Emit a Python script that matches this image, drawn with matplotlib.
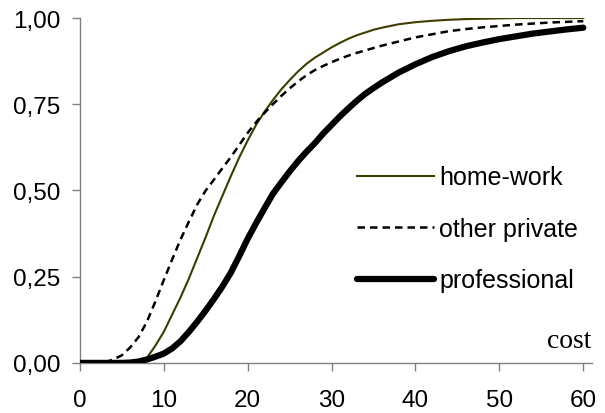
import matplotlib
matplotlib.use('Agg')
import matplotlib.pyplot as plt
import numpy as np

plt.rcParams['font.family'] = ['Liberation Sans', 'DejaVu Sans']

# cost grid and cumulative shares
cost = [0, 1, 2, 3, 4, 5, 6, 7, 8, 9, 10, 11, 12, 13, 14, 15, 16, 17, 18, 19, 20,
        21, 22, 23, 24, 25, 26, 27, 28, 29, 30, 31, 32, 33, 34, 35, 36,
        38, 40, 42, 44, 46, 48, 50, 52, 54, 56, 58, 60]

home_work = [0, 0, 0, 0, 0, 0, 0.001, 0.004, 0.015, 0.05, 0.09, 0.14, 0.19, 0.245, 0.305,
             0.365, 0.428, 0.485, 0.542, 0.596, 0.645, 0.69, 0.728, 0.762, 0.793, 0.82,
             0.845, 0.867, 0.885, 0.90, 0.915, 0.928, 0.94, 0.95, 0.958, 0.966, 0.972,
             0.982, 0.988, 0.992, 0.995, 0.997, 0.998, 0.999, 1.0, 1.0, 1.0, 1.0, 1.0]

other_private = [0, 0, 0, 0.002, 0.01, 0.022, 0.045, 0.075, 0.12, 0.178, 0.24, 0.30,
                 0.358, 0.41, 0.46, 0.50, 0.532, 0.565, 0.597, 0.632, 0.667, 0.698,
                 0.725, 0.75, 0.774, 0.796, 0.816, 0.834, 0.849, 0.861, 0.872, 0.882,
                 0.891, 0.899, 0.906, 0.913, 0.92, 0.932, 0.944, 0.953, 0.962, 0.968,
                 0.973, 0.977, 0.981, 0.984, 0.987, 0.989, 0.991]

professional = [0, 0, 0, 0, 0, 0, 0.001, 0.004, 0.01, 0.018, 0.027, 0.042, 0.063, 0.09,
                0.12, 0.152, 0.186, 0.222, 0.262, 0.31, 0.36, 0.405, 0.448, 0.49, 0.523,
                0.555, 0.585, 0.612, 0.637, 0.665, 0.69, 0.715, 0.738, 0.76, 0.78, 0.797,
                0.813, 0.842, 0.866, 0.887, 0.904, 0.918, 0.929, 0.939, 0.947, 0.955,
                0.961, 0.967, 0.972]

y_ticks = [0, 0.25, 0.5, 0.75, 1.0]
y_labels = ['0,00', '0,25', '0,50', '0,75', '1,00']
x_ticks = [0, 10, 20, 30, 40, 50, 60]

fig = plt.figure(figsize=(6.05, 4.14), dpi=100)
ax = fig.add_axes([0.132, 0.121, 0.846, 0.833])

ax.plot(cost, home_work, color='#3d3d00', linewidth=1.5, label='home-work')
ax.plot(cost, other_private, color='black', linewidth=1.8, dashes=(3, 2),
        label='other private')
ax.plot(cost, professional, color='black', linewidth=4.5,
        solid_capstyle='round', label='professional')

ax.set_xlim(0, 61)
ax.set_ylim(0, 1)
ax.set_xticks(x_ticks)
ax.set_yticks(y_ticks)
ax.set_yticklabels(y_labels)

for side in ['top', 'right']:
    ax.spines[side].set_visible(False)
for side in ['left', 'bottom']:
    ax.spines[side].set_color('#808080')
    ax.spines[side].set_linewidth(1.0)
    ax.spines[side].set_zorder(0)
ax.tick_params(axis='both', direction='out', length=6, width=1.0,
               color='#808080', labelsize=17.5, labelcolor='black')
ax.tick_params(axis='y', pad=8)
ax.tick_params(axis='x', pad=13)

ax.legend(loc='upper left', bbox_to_anchor=(0.541, 0.573), frameon=False,
          fontsize=18, handlelength=3.1, handletextpad=0.2, labelspacing=1.1,
          borderpad=0, borderaxespad=0)

ax.text(1.0, 0.03, 'cost', transform=ax.transAxes, ha='right', va='bottom',
        fontsize=20, family=['Liberation Serif', 'DejaVu Serif'])

fig.savefig('out.png', dpi=100, facecolor='white')
